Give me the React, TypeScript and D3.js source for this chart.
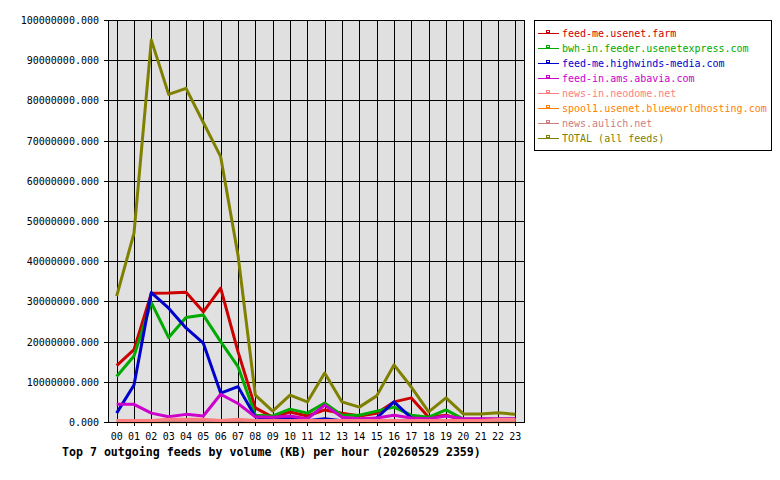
import React from "react";
import * as d3 from "d3";

const hours = ["00","01","02","03","04","05","06","07","08","09","10","11","12","13","14","15","16","17","18","19","20","21","22","23"];

const feedNames = [
  "feed-me.usenet.farm",
  "bwh-in.feeder.usenetexpress.com",
  "feed-me.highwinds-media.com",
  "feed-in.ams.abavia.com",
  "news-in.neodome.net",
  "spool1.usenet.blueworldhosting.com",
  "news.aulich.net",
  "TOTAL (all feeds)",
];

const feedColors = ["#cc0000", "#00aa00", "#0000cc", "#cc00cc", "#ff7f7f", "#ff8000", "#cc7f7f", "#808000"];

// values in KB per hour
const usenetFarm = [14.0e6, 18.0e6, 32.0e6, 32.1e6, 32.3e6, 27.4e6, 33.3e6, 17.5e6, 3.5e6, 1.2e6, 2.5e6, 1.5e6, 3.0e6, 2.2e6, 1.5e6, 2.2e6, 5.0e6, 6.0e6, 1.2e6, 1.7e6, 0.5e6, 0.5e6, 0.5e6, 0.5e6];
const usenetExpress = [11.3e6, 16.4e6, 29.7e6, 21.0e6, 26.0e6, 26.6e6, 20.0e6, 13.8e6, 1.7e6, 1.5e6, 3.2e6, 2.2e6, 4.7e6, 1.7e6, 1.7e6, 2.7e6, 3.7e6, 1.7e6, 1.2e6, 3.0e6, 0.7e6, 0.7e6, 0.7e6, 0.7e6];
const highwinds = [2.2e6, 9.2e6, 32.2e6, 28.3e6, 23.4e6, 19.6e6, 7.2e6, 8.8e6, 1.3e6, 0.5e6, 1.0e6, 0.3e6, 0.8e6, 0.3e6, 0.5e6, 1.0e6, 5.0e6, 1.0e6, 0.3e6, 0.3e6, 0.3e6, 0.3e6, 0.3e6, 0.3e6];
const abavia = [4.4e6, 4.4e6, 2.2e6, 1.3e6, 1.9e6, 1.5e6, 6.9e6, 4.6e6, 1.3e6, 1.2e6, 1.5e6, 0.8e6, 4.2e6, 1.2e6, 0.8e6, 1.0e6, 1.7e6, 1.0e6, 0.8e6, 1.5e6, 0.8e6, 0.8e6, 0.8e6, 0.8e6];
const neodome = [0.4e6, 0.4e6, 0.4e6, 0.7e6, 0.7e6, 0.7e6, 0.4e6, 0.7e6, 0.4e6, 0.4e6, 0.4e6, 0.4e6, 0.4e6, 0.4e6, 0.4e6, 0.4e6, 0.4e6, 0.4e6, 0.4e6, 0.4e6, 0.4e6, 0.4e6, 0.6e6, 0.6e6];
const blueworld = [0.05e6, 0.05e6, 0.05e6, 0.05e6, 0.05e6, 0.05e6, 0.05e6, 0.05e6, 0.05e6, 0.05e6, 0.05e6, 0.05e6, 0.05e6, 0.05e6, 0.05e6, 0.05e6, 0.05e6, 0.05e6, 0.05e6, 0.05e6, 0.05e6, 0.05e6, 0.05e6, 0.05e6];
const aulich = [0.4e6, 0.4e6, 0.4e6, 0.4e6, 0.4e6, 0.4e6, 0.4e6, 0.4e6, 0.4e6, 0.4e6, 0.4e6, 0.4e6, 0.4e6, 0.4e6, 0.4e6, 0.4e6, 0.4e6, 0.4e6, 0.4e6, 0.4e6, 0.4e6, 0.4e6, 0.4e6, 0.4e6];
const total = [31.3e6, 47.0e6, 95.0e6, 81.5e6, 83.0e6, 74.5e6, 66.0e6, 41.5e6, 6.7e6, 2.7e6, 6.7e6, 5.0e6, 12.2e6, 5.0e6, 3.7e6, 6.5e6, 14.2e6, 8.7e6, 2.5e6, 6.0e6, 2.0e6, 2.0e6, 2.3e6, 1.9e6];

const series = [usenetFarm, usenetExpress, highwinds, abavia, neodome, blueworld, aulich, total];

const yTicks = [0, 10e6, 20e6, 30e6, 40e6, 50e6, 60e6, 70e6, 80e6, 90e6, 100e6];

const title = "Top 7 outgoing feeds by volume (KB) per hour (20260529 2359)";

export default function App() {
  const plot = { left: 108, right: 524, top: 20, bottom: 422 };
  const mono = "'DejaVu Sans Mono', monospace";

  const x = d3.scaleLinear().domain([-0.5, 23.5]).range([plot.left, plot.right]);
  const y = d3.scaleLinear().domain([0, 100e6]).range([plot.bottom, plot.top]);

  const line = d3.line<number>()
    .x((_, i) => x(i))
    .y((d) => y(d));

  // TOTAL drawn first so the single feeds sit on top of it
  const drawOrder = [7, 0, 1, 2, 3, 5, 6, 4];

  return (
    <svg width={780} height={480} style={{ position: "absolute", left: 0, top: 0, background: "#fff" }}>
      <rect x={plot.left} y={plot.top} width={plot.right - plot.left} height={plot.bottom - plot.top} fill="#e0e0e0" />

      {/* grid + y labels */}
      {yTicks.map((t) => (
        <g key={t}>
          <line x1={plot.left - 4} x2={plot.right} y1={Math.round(y(t)) + 0.5} y2={Math.round(y(t)) + 0.5} stroke="#000" />
          <text x={99} y={y(t) + 4} textAnchor="end" fontFamily={mono} fontSize={10} fill="#000">
            {d3.format(".3f")(t)}
          </text>
        </g>
      ))}
      {hours.map((h, i) => (
        <g key={h}>
          <line x1={Math.round(x(i)) + 0.5} x2={Math.round(x(i)) + 0.5} y1={plot.top} y2={plot.bottom + 4} stroke="#000" />
          <text x={x(i)} y={440} textAnchor="middle" fontFamily={mono} fontSize={10} fill="#000">{h}</text>
        </g>
      ))}

      {drawOrder.map((k) => (
        <path key={k} d={line(series[k]) || ""} fill="none" stroke={feedColors[k]} strokeWidth={3} strokeLinejoin="round" />
      ))}

      <rect x={plot.left + 0.5} y={plot.top + 0.5} width={plot.right - plot.left} height={plot.bottom - plot.top} fill="none" stroke="#000" />

      <text x={62} y={456} fontFamily={mono} fontSize={11.6} fontWeight="bold" fill="#000">{title}</text>

      {/* legend */}
      <rect x={534.5} y={20.5} width={237} height={130} fill="#fff" stroke="#000" />
      {feedNames.map((name, i) => {
        const ly = 33 + i * 15;
        return (
          <g key={name}>
            <line x1={538} x2={559} y1={ly + 0.5} y2={ly + 0.5} stroke={feedColors[i]} />
            <rect x={546.5} y={ly - 2.5} width={3} height={2} fill="none" stroke={feedColors[i]} />
            <text x={562} y={ly + 4} fontFamily={mono} fontSize={10} fill={feedColors[i]}>{name}</text>
          </g>
        );
      })}
    </svg>
  );
}
